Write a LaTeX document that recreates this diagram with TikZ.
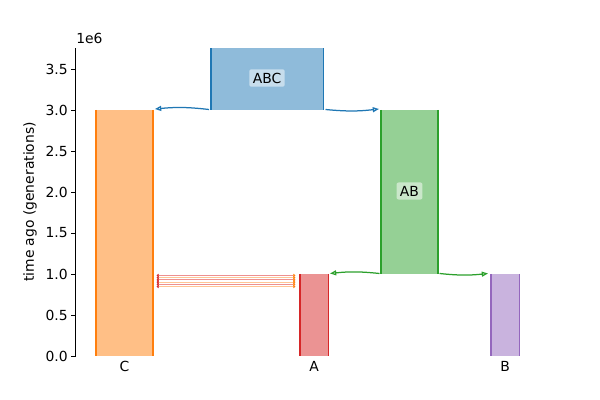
\documentclass[tikz,border=0pt]{standalone}
\usepackage{fontspec}
\setmainfont{DejaVu Sans}
\usetikzlibrary{arrows.meta}
\definecolor{azulT}{HTML}{1F77B4}
\definecolor{naranjaT}{HTML}{FF7F0E}
\definecolor{verdeT}{HTML}{2CA02C}
\definecolor{rojoT}{HTML}{D62728}
\definecolor{moradoT}{HTML}{9467BD}
\definecolor{rojoMig}{HTML}{EE9090}
\definecolor{naranjaMig}{HTML}{FFC594}

\begin{document}
\begin{tikzpicture}[x=0.72pt,y=-0.72pt,
    lado/.style={line width=0.75pt},
    etiq/.style={fill=white,fill opacity=0.5,text opacity=1,rounded corners=1.5pt,
                 inner sep=2.5pt},
    flecha/.style={line width=0.9pt,-{Triangle[open,length=4.5pt,width=3.6pt]},bend right=6},
    migr/.style={line width=0.8pt,
                 {Triangle[rojoT,length=1.6pt,width=2.6pt]}-{Triangle[naranjaT,length=1.6pt,width=2.6pt]}}]
  \useasboundingbox (0,0) rectangle (600,400);
  % demes
  \fill[azulT!50] (211,48.5) rectangle (323.5,110);
  \draw[azulT,lado] (211,48.5) -- (211,110) (323.5,48.5) -- (323.5,110);
  \fill[naranjaT!50] (96,110) rectangle (153,356);
  \draw[naranjaT,lado] (96,110) -- (96,356) (153,110) -- (153,356);
  \fill[verdeT!50] (381,110) rectangle (438,274);
  \draw[verdeT,lado] (381,110) -- (381,274) (438,110) -- (438,274);
  \fill[rojoT!50] (300,274) rectangle (328.5,356);
  \draw[rojoT,lado] (300,274) -- (300,356) (328.5,274) -- (328.5,356);
  \fill[moradoT!50] (491,274) rectangle (519.5,356);
  \draw[moradoT,lado] (491,274) -- (491,356) (519.5,274) -- (519.5,356);
  \node[etiq] (abc) at (267,78) {ABC};
  \node[etiq] (ab) at (409.5,191) {AB};
  % ancestry
  \coordinate (abcIzq) at (209,109.5);
  \coordinate (abcDer) at (325.5,109.5);
  \coordinate (cSup) at (155,109);
  \coordinate (abSup) at (379,109);
  \coordinate (abIzq) at (379.5,273.5);
  \coordinate (abDer) at (439.5,273.5);
  \coordinate (aSup) at (330,273.5);
  \coordinate (bSup) at (488,273.5);
  \draw[azulT,flecha] (abcIzq) to (cSup);
  \draw[azulT,flecha] (abcDer) to (abSup);
  \draw[verdeT,flecha] (abIzq) to (aSup);
  \draw[verdeT,flecha] (abDer) to (bSup);
  % migration C <-> A
  \draw[draw=rojoMig,migr] (156.5,275.5) -- (295.5,275.5);
  \draw[draw=naranjaMig,migr] (156.5,277.7) -- (295.5,277.7);
  \draw[draw=rojoMig,migr] (156.5,279.9) -- (295.5,279.9);
  \draw[draw=naranjaMig,migr] (156.5,282.1) -- (295.5,282.1);
  \draw[draw=rojoMig,migr] (156.5,284.3) -- (295.5,284.3);
  \draw[draw=naranjaMig,migr] (156.5,286.5) -- (295.5,286.5);
  % axis
  \draw[line width=0.6pt] (75.5,48.5) -- (75.5,356);
  \foreach \v/\t in {0/0.0,1/0.5,2/1.0,3/1.5,4/2.0,5/2.5,6/3.0,7/3.5} {
    \draw[line width=0.6pt] (75.5,356-41*\v) -- (70.5,356-41*\v);
    \node[anchor=east,inner sep=0pt] at (68,356-41*\v) {\t};
  }
  \node[anchor=base west,inner sep=0pt] (escala) at (76,44) {1e6};
  \node[rotate=90] (ylab) at (30,202) {time ago (generations)};
  \node[anchor=base,inner sep=0pt] (lc) at (124.5,371.5) {C};
  \node[anchor=base,inner sep=0pt] (la) at (314.2,371.5) {A};
  \node[anchor=base,inner sep=0pt] (lb) at (505.2,371.5) {B};
\end{tikzpicture}
\end{document}
